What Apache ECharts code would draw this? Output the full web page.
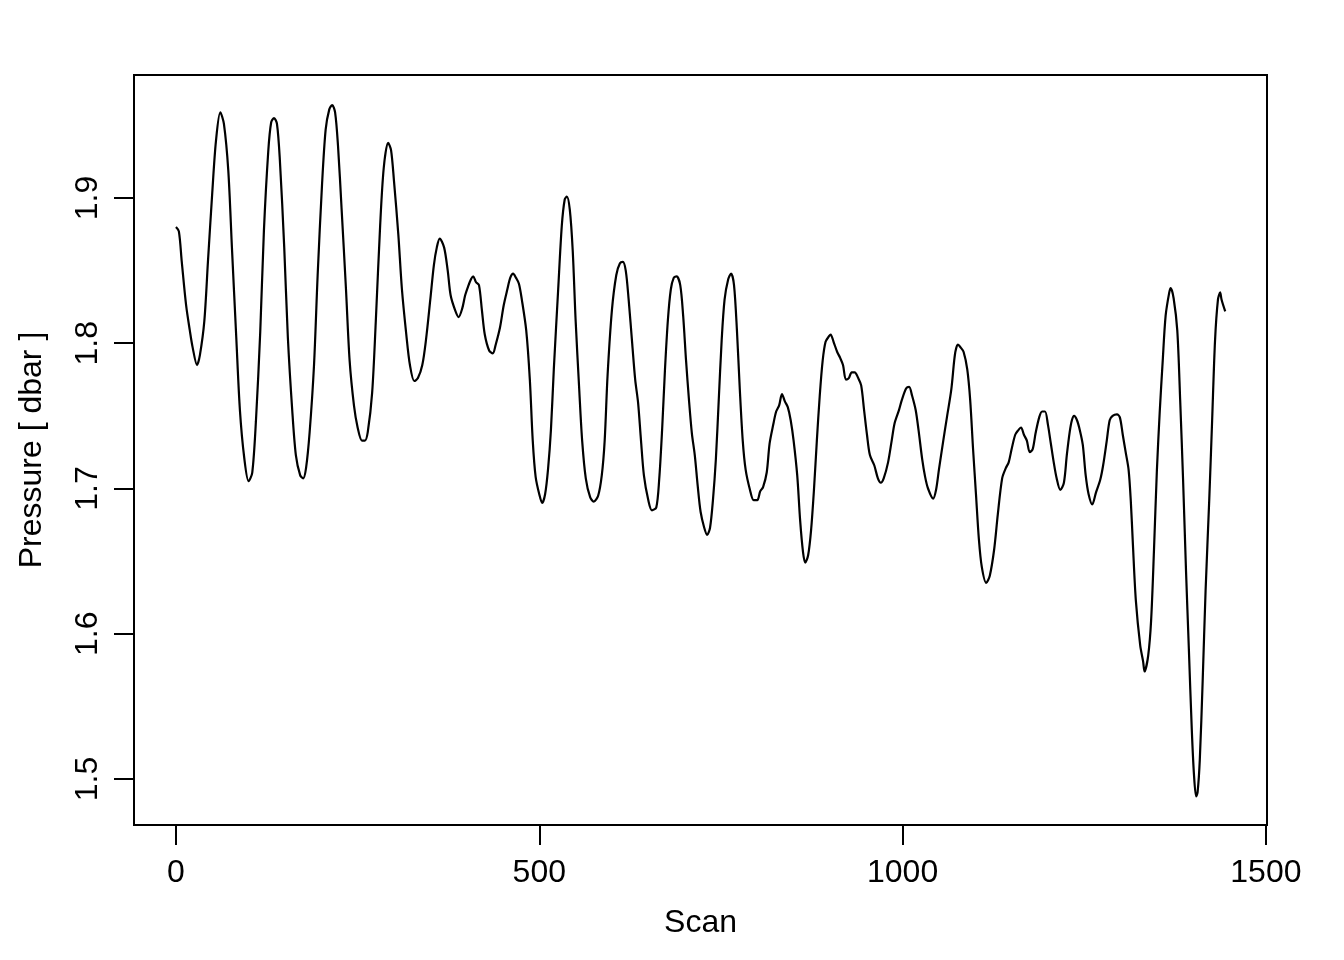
<!DOCTYPE html>
<html>
<head>
<meta charset="utf-8">
<script src="https://cdn.jsdelivr.net/npm/echarts@6/dist/echarts.min.js"></script>
<style>
  html, body { margin: 0; padding: 0; background: #fff; }
  #chart { width: 1344px; height: 960px; }
</style>
</head>
<body>
<div id="chart"></div>
<script>
// Scan index (x) and pressure in dbar (y)
const scan = [
  0, 4, 8, 14, 19, 23, 29, 33, 39, 44, 50, 55, 61, 66, 72, 77, 83, 88, 94, 100,
  105, 110, 116, 121, 127, 131, 135, 139, 143, 149, 154, 160, 165, 171, 175, 179, 184, 190, 195, 201,
  206, 211, 215, 219, 223, 228, 234, 239, 245, 250, 256, 260, 264, 270, 275, 281, 286, 292, 296, 300,
  306, 311, 317, 322, 328, 333, 339, 344, 350, 355, 359, 363, 369, 374, 378, 384, 389, 394, 398, 402,
  406, 409, 413, 417, 421, 425, 431, 436, 440, 446, 451, 456, 460, 464, 468, 472, 476, 482, 487, 491,
  495, 500, 504, 508, 512, 516, 520, 526, 531, 535, 538, 542, 546, 550, 555, 559, 564, 570, 575, 581,
  586, 590, 594, 600, 606, 611, 615, 619, 623, 628, 632, 636, 640, 644, 650, 655, 661, 665, 669, 673,
  677, 681, 685, 689, 694, 698, 702, 706, 710, 714, 718, 722, 727, 731, 735, 739, 743, 747, 751, 755,
  760, 764, 768, 772, 776, 780, 784, 790, 795, 800, 804, 808, 813, 817, 822, 826, 830, 834, 838, 842,
  846, 850, 855, 859, 863, 866, 870, 874, 878, 882, 886, 890, 894, 899, 901, 905, 910, 914, 918, 922,
  926, 930, 934, 939, 943, 947, 951, 955, 961, 966, 970, 974, 980, 985, 989, 995, 999, 1005, 1009, 1013,
  1018, 1022, 1027, 1031, 1035, 1042, 1046, 1050, 1056, 1061, 1067, 1071, 1073, 1076, 1080, 1084, 1089, 1093, 1097, 1101,
  1105, 1109, 1115, 1120, 1126, 1131, 1137, 1142, 1146, 1150, 1155, 1159, 1163, 1167, 1171, 1175, 1179, 1183, 1188, 1192,
  1196, 1200, 1204, 1208, 1212, 1217, 1222, 1226, 1230, 1233, 1236, 1240, 1244, 1248, 1252, 1256, 1261, 1266, 1272, 1276,
  1281, 1285, 1289, 1295, 1299, 1303, 1307, 1311, 1314, 1317, 1321, 1327, 1331, 1333, 1338, 1342, 1346, 1350, 1354, 1358,
  1362, 1367, 1369, 1373, 1378, 1382, 1386, 1390, 1394, 1398, 1401, 1404, 1406, 1409, 1413, 1417, 1422, 1426, 1430, 1434,
  1437, 1439, 1444
];
const pressure = [
  1.880, 1.877, 1.856, 1.826, 1.809, 1.797, 1.785, 1.792, 1.815, 1.856, 1.904, 1.939, 1.959, 1.951, 1.919, 1.866, 1.804, 1.754, 1.721, 1.705,
  1.711, 1.746, 1.808, 1.877, 1.932, 1.952, 1.955, 1.951, 1.926, 1.866, 1.804, 1.754, 1.723, 1.709, 1.707, 1.714, 1.739, 1.785, 1.847, 1.909,
  1.947, 1.961, 1.964, 1.959, 1.936, 1.892, 1.837, 1.788, 1.757, 1.742, 1.733, 1.733, 1.739, 1.766, 1.815, 1.881, 1.921, 1.938, 1.933, 1.912,
  1.875, 1.837, 1.806, 1.785, 1.774, 1.776, 1.785, 1.802, 1.830, 1.854, 1.866, 1.872, 1.866, 1.850, 1.833, 1.823, 1.818, 1.824, 1.833, 1.839,
  1.844, 1.846, 1.842, 1.840, 1.823, 1.806, 1.795, 1.793, 1.799, 1.811, 1.826, 1.837, 1.845, 1.848, 1.845, 1.841, 1.830, 1.809, 1.775, 1.733,
  1.708, 1.696, 1.690, 1.696, 1.713, 1.740, 1.782, 1.837, 1.881, 1.899, 1.901, 1.892, 1.864, 1.816, 1.768, 1.733, 1.707, 1.694, 1.691, 1.695,
  1.709, 1.733, 1.778, 1.823, 1.847, 1.855, 1.856, 1.850, 1.830, 1.799, 1.775, 1.759, 1.733, 1.709, 1.692, 1.685, 1.687, 1.706, 1.740, 1.782,
  1.816, 1.837, 1.845, 1.846, 1.840, 1.819, 1.788, 1.761, 1.738, 1.723, 1.702, 1.684, 1.673, 1.668, 1.673, 1.692, 1.720, 1.761, 1.802, 1.830,
  1.844, 1.848, 1.840, 1.809, 1.768, 1.733, 1.713, 1.699, 1.692, 1.692, 1.698, 1.701, 1.711, 1.731, 1.744, 1.753, 1.757, 1.765, 1.760, 1.756,
  1.747, 1.733, 1.709, 1.678, 1.656, 1.649, 1.654, 1.671, 1.699, 1.733, 1.764, 1.788, 1.801, 1.805, 1.806, 1.801, 1.794, 1.790, 1.785, 1.775,
  1.776, 1.780, 1.780, 1.776, 1.771, 1.754, 1.737, 1.723, 1.716, 1.707, 1.704, 1.707, 1.718, 1.733, 1.745, 1.754, 1.761, 1.769, 1.770, 1.764,
  1.754, 1.740, 1.720, 1.708, 1.700, 1.693, 1.699, 1.713, 1.733, 1.749, 1.768, 1.788, 1.795, 1.799, 1.797, 1.794, 1.782, 1.761, 1.727, 1.696,
  1.665, 1.646, 1.635, 1.640, 1.658, 1.682, 1.707, 1.714, 1.718, 1.727, 1.737, 1.740, 1.742, 1.737, 1.733, 1.725, 1.727, 1.738, 1.749, 1.753,
  1.753, 1.744, 1.731, 1.718, 1.707, 1.699, 1.704, 1.723, 1.739, 1.747, 1.750, 1.747, 1.740, 1.730, 1.709, 1.696, 1.689, 1.697, 1.706, 1.716,
  1.733, 1.747, 1.750, 1.751, 1.749, 1.737, 1.725, 1.713, 1.692, 1.661, 1.623, 1.592, 1.581, 1.574, 1.585, 1.609, 1.658, 1.713, 1.754, 1.788,
  1.819, 1.835, 1.838, 1.831, 1.809, 1.761, 1.706, 1.644, 1.589, 1.534, 1.503, 1.488, 1.491, 1.513, 1.568, 1.630, 1.692, 1.747, 1.802, 1.830,
  1.835, 1.830, 1.822
];
const xTicks = [0, 500, 1000, 1500];
const yTicks = [1.5, 1.6, 1.7, 1.8, 1.9];
const yTickLabels = ['1.5', '1.6', '1.7', '1.8', '1.9'];
const xTitle = 'Scan';
const yTitle = 'Pressure [ dbar ]';

const FONT = '"Liberation Sans", Arial, Helvetica, sans-serif';
const chart = echarts.init(document.getElementById('chart'), null, { renderer: 'canvas' });
const seriesData = scan.map((s, i) => [s, pressure[i]]);

chart.setOption({
  animation: false,
  backgroundColor: '#ffffff',
  grid: {
    left: 134, right: 77, top: 75, bottom: 135,
    show: true, borderColor: '#000', borderWidth: 2, backgroundColor: 'transparent'
  },
  xAxis: {
    type: 'value',
    min: -57.75, max: 1501.5,
    name: xTitle, nameLocation: 'middle', nameGap: 82,
    nameTextStyle: { color: '#000', fontSize: 32, fontFamily: FONT },
    axisLine: { show: false, onZero: false },
    axisTick: { show: true, length: 20, lineStyle: { color: '#000', width: 2 }, customValues: xTicks },
    axisLabel: { show: true, margin: 32, color: '#000', fontSize: 32, fontFamily: FONT, customValues: xTicks,
      formatter: v => String(v) },
    splitLine: { show: false }
  },
  yAxis: {
    type: 'value',
    min: 1.46833, max: 1.98468,
    name: yTitle, nameLocation: 'middle', nameGap: 86, nameRotate: 90,
    nameTextStyle: { color: '#000', fontSize: 32, fontFamily: FONT },
    axisLine: { show: false, onZero: false },
    axisTick: { show: true, length: 20, lineStyle: { color: '#000', width: 2 }, customValues: yTicks },
    axisLabel: { show: true, margin: 30, rotate: 90, color: '#000', fontSize: 32, fontFamily: FONT, customValues: yTicks,
      formatter: v => { const i = yTicks.findIndex(t => Math.abs(t - v) < 1e-9); return i >= 0 ? yTickLabels[i] : v.toFixed(1); } },
    splitLine: { show: false }
  },
  series: [{
    type: 'line',
    data: seriesData,
    showSymbol: false,
    smooth: 0.3,
    lineStyle: { color: '#000', width: 2.2 },
    clip: true
  }]
});
</script>
</body>
</html>
